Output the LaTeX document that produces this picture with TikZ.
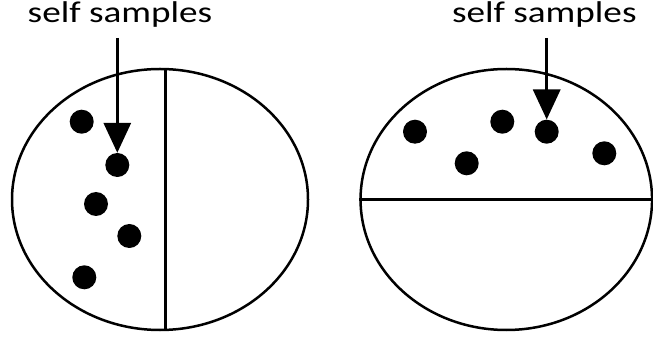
\documentclass[tikz,border=0pt]{standalone}
\usepackage{fontspec}
\setmainfont{Carlito}
\usetikzlibrary{arrows.meta,shapes.geometric}
\begin{document}
\begin{tikzpicture}[x=1pt,y=1pt,
  outline/.style={ellipse,draw=black,line width=2.5pt,inner sep=0pt},
  divider/.style={draw=black,line width=2.5pt},
  dot/.style={circle,fill=black,minimum size=24pt,inner sep=0pt},
  arr/.style={line width=3.3pt,-{Triangle[width=27pt,length=30pt]}},
  lbl/.style={font=\fontsize{30}{33}\selectfont,anchor=base,inner sep=0pt,xscale=1.24}
]
\useasboundingbox (0,0) rectangle (653,340);
% left
\node[outline,minimum width=296pt,minimum height=261pt] (e1) at (160,140.5) {};
\coordinate (v1t) at (165.7,271);
\coordinate (v1b) at (165.7,10);
\draw[divider] (v1t) -- (v1b);
\node[dot] (l1) at (81.7,218.3) {};
\node[dot] (l2) at (117.3,175) {};
\node[dot] (l3) at (96,136) {};
\node[dot] (l4) at (129.3,104) {};
\node[dot] (l5) at (84.3,62.7) {};
\node[lbl] (t1) at (120,317) {self samples};
\coordinate (a1) at (117.3,302);
\draw[arr] (a1) -- (l2.north);
% right
\node[outline,minimum width=291.5pt,minimum height=261pt] (e2) at (506.3,140.5) {};
\draw[divider] (e2.west) -- (e2.east);
\node[dot] (r1) at (415,208.3) {};
\node[dot] (r2) at (466.7,176.7) {};
\node[dot] (r3) at (502.3,218.3) {};
\node[dot] (r4) at (546.7,208.3) {};
\node[dot] (r5) at (604.3,186.7) {};
\node[lbl] (t2) at (544.3,317) {self samples};
\coordinate (a2) at (546.7,302);
\draw[arr] (a2) -- (r4.north);
\end{tikzpicture}
\end{document}
